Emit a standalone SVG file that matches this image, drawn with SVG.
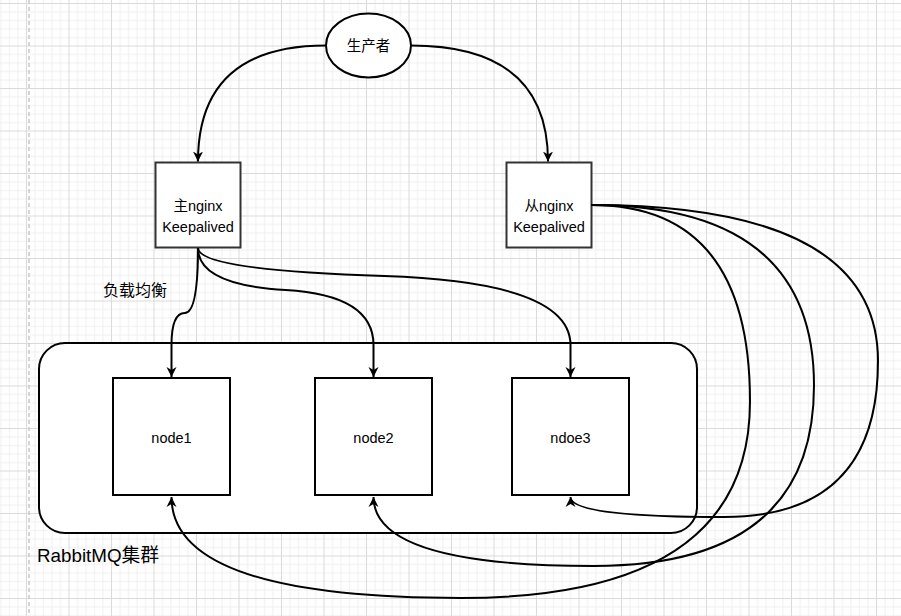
<svg xmlns="http://www.w3.org/2000/svg" width="901" height="616" viewBox="0 0 901 616">
<style>
.t{font-family:"Liberation Sans","Noto Sans CJK SC",sans-serif;fill:#000;}
.box{fill:#fff;stroke:#000;stroke-width:2;}
.ngx{fill:#fff;stroke:#333;stroke-width:2;}
.e{fill:none;stroke:#000;stroke-width:2;marker-end:url(#ah);}
</style>
<defs>
<pattern id="grid" patternUnits="userSpaceOnUse" x="5.25" y="-17.75" width="42.5" height="42.5">
<path d="M4.25,0V42.5M12.75,0V42.5M29.75,0V42.5M38.25,0V42.5M0,4.25H42.5M0,12.75H42.5M0,29.75H42.5M0,38.25H42.5" stroke="#efefef" stroke-width="1" fill="none"/>
<path d="M21.25,0V42.5M0,21.25H42.5" stroke="#dadada" stroke-width="1" fill="none"/>
</pattern>
<marker id="ah" viewBox="0 0 11 11" refX="10" refY="5.5" markerWidth="11" markerHeight="11" orient="auto" markerUnits="userSpaceOnUse">
<path d="M0,0.5 L10,5.5 L0,10.5 L3,5.5 Z" fill="#000"/>
</marker>
</defs>
<rect width="901" height="616" fill="#fff"/>
<rect width="901" height="616" fill="url(#grid)"/>
<line x1="29" y1="0" x2="29" y2="616" stroke="#c8c8c8" stroke-width="1.5" stroke-dasharray="4 3"/>

<g id="cluster">
<rect x="39" y="343" width="658" height="190" rx="26" ry="26" class="box"/>
<text class="t" x="37" y="562" font-size="18.8">RabbitMQ集群</text>
</g>

<g id="producer">
<ellipse cx="368.5" cy="45.5" rx="42.5" ry="32" class="box"/>
<text class="t" x="368.5" y="51" font-size="14.5" text-anchor="middle">生产者</text>
</g>

<g id="master-nginx">
<rect x="155.5" y="162.5" width="85" height="85" class="ngx"/>
<text class="t" x="198" y="211" font-size="14.5" text-anchor="middle">主nginx</text>
<text class="t" x="198" y="232" font-size="14.5" text-anchor="middle">Keepalived</text>
</g>

<g id="slave-nginx">
<rect x="506.5" y="162.5" width="85" height="85" class="ngx"/>
<text class="t" x="549" y="211" font-size="14.5" text-anchor="middle">从nginx</text>
<text class="t" x="549" y="232" font-size="14.5" text-anchor="middle">Keepalived</text>
</g>

<g id="node1">
<rect x="113" y="378" width="117" height="117" class="box"/>
<text class="t" x="171.5" y="443" font-size="14.5" text-anchor="middle">node1</text>
</g>

<g id="node2">
<rect x="315" y="378" width="117" height="117" class="box"/>
<text class="t" x="373.5" y="443" font-size="14.5" text-anchor="middle">node2</text>
</g>

<g id="ndoe3">
<rect x="512" y="378" width="117" height="117" class="box"/>
<text class="t" x="570.5" y="443" font-size="14.5" text-anchor="middle">ndoe3</text>
</g>

<g id="label-lb">
<text class="t" x="103" y="296" font-size="16">负载均衡</text>
</g>

<g id="connectors">
<path class="e" d="M326,45.5 Q198,45.5 198,161.5"/>
<path class="e" d="M411,45.5 Q548,45.5 548,161.5"/>
<path class="e" d="M198,248 Q198,313 184.75,313 Q171.5,313 171.5,345 L171.5,377"/>
<path class="e" d="M198,248 Q198,285 285.75,290 Q373.5,295 373.5,345 L373.5,377"/>
<path class="e" d="M198,248 Q198,270 384.25,276 Q570.5,282 570.5,345 L570.5,377"/>
<path class="e" d="M591.5,205 Q750,205 750,401.5 Q750,598 460.75,598 Q171.5,598 171.5,497"/>
<path class="e" d="M591.5,205 Q814,205 814,385.5 Q814,566 593.75,566 Q373.5,566 373.5,497"/>
<path class="e" d="M591.5,205 Q878,205 878,361 Q878,517 724.25,517 Q570.5,517 570.5,497"/>
</g>
</svg>
